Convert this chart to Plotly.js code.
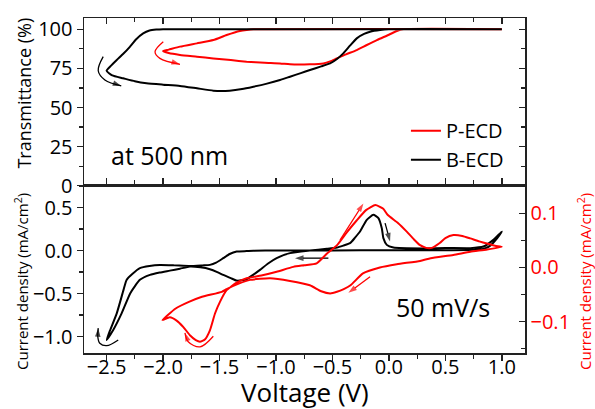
<!DOCTYPE html>
<html>
<head>
<meta charset="utf-8">
<script src="https://cdn.plot.ly/plotly-3.0.1.min.js"></script>
<style>html,body{margin:0;padding:0;background:#fff;}#chart{width:595px;height:409px;}</style>
</head>
<body>
<div id="chart"></div>
<script>
// ---------- Transmittance at 500 nm (top panel) ----------
const bTransV = [1.0, -1.9, -2.0, -2.06, -2.12, -2.176, -2.24, -2.294, -2.35, -2.41, -2.46, -2.5,
  -2.45, -2.353, -2.25, -2.146, -2.0, -1.85, -1.7, -1.555, -1.41, -1.3, -1.2, -1.08, -0.964, -0.876,
  -0.78, -0.699, -0.6, -0.521, -0.46, -0.404, -0.345, -0.285, -0.22, -0.167, -0.078, 0.0, 1.0];
const bTransT = [100, 100, 100, 99.8, 99.2, 97.4, 93.5, 88.8, 84.5, 80.4, 76.8, 73.5,
  70.5, 68.7, 66.8, 65.5, 64.6, 63.8, 62.3, 60.8, 60.8, 61.8, 63.3, 65.3, 67.6, 69.7,
  72.0, 74.0, 76.3, 78.2, 81.0, 84.6, 89.5, 94.2, 97.0, 98.4, 99.5, 100, 100];

const pTransV = [1.0, -1.2, -1.26, -1.32, -1.437, -1.555, -1.7, -1.85, -1.95, -2.0,
  -1.95, -1.85, -1.7, -1.555, -1.4, -1.26, -1.1, -0.964, -0.876, -0.7, -0.58, -0.52,
  -0.462, -0.38, -0.285, -0.2, -0.107, 0.0, 0.07, 0.13, 1.0];
const pTransT = [100, 100, 99.6, 98.9, 96.3, 93.1, 91.0, 88.9, 87.0, 86.1,
  84.8, 83.6, 82.5, 81.4, 80.3, 79.3, 78.6, 78.2, 77.6, 77.6, 78.2, 79.5,
  81.4, 84.0, 86.7, 89.8, 93.1, 96.5, 98.9, 100, 100];

// ---------- Cyclic voltammetry, 50 mV/s (bottom panel) ----------
// B-ECD, left axis (mA/cm2)
const bCvV = [1.0, 0.95, 0.9, 0.85, 0.75, 0.5, 0.0, -0.5, -1.0, -1.2, -1.26, -1.348, -1.41, -1.467,
  -1.53, -1.585, -1.65, -1.762, -1.9, -2.028, -2.12, -2.205, -2.27, -2.323, -2.35, -2.41, -2.47, -2.5,
  -2.44, -2.367, -2.29, -2.205, -2.116, -2.03, -1.94, -1.85, -1.762, -1.67, -1.585, -1.52, -1.467,
  -1.40, -1.348, -1.30, -1.26, -1.2, -1.142, -1.07, -0.994, -0.876, -0.7, -0.55, -0.46, -0.404,
  -0.344, -0.3, -0.256, -0.196, -0.138, -0.093, -0.063, -0.049, -0.019, 0.04, 0.3, 0.5, 0.72,
  0.837, 0.925, 1.0];
const bCvI = [0.22, 0.13, 0.06, 0.025, 0.008, 0.003, 0.003, 0.002, 0.0, -0.002, -0.006, -0.012, -0.04, -0.088,
  -0.14, -0.166, -0.172, -0.18, -0.172, -0.168, -0.18, -0.205, -0.27, -0.341, -0.457, -0.73, -0.93, -1.04,
  -0.92, -0.73, -0.495, -0.34, -0.283, -0.255, -0.233, -0.21, -0.186, -0.195, -0.217, -0.25, -0.283,
  -0.32, -0.349, -0.345, -0.333, -0.28, -0.224, -0.15, -0.088, -0.03, 0.0, 0.02, 0.035, 0.058,
  0.086, 0.15, 0.221, 0.357, 0.415, 0.377, 0.26, 0.144, 0.066, 0.035, 0.025, 0.03, 0.028,
  0.047, 0.124, 0.22];

// P-ECD, right axis (mA/cm2)
const pCvV = [-2.005, -1.94, -1.88, -1.82, -1.762, -1.71, -1.673, -1.63, -1.585, -1.54, -1.496, -1.437,
  -1.348, -1.26, -1.13, -0.994, -0.847, -0.75, -0.64, -0.546, -0.459, -0.371, -0.284, -0.2, -0.12,
  -0.05, -0.01, 0.08, 0.158, 0.22, 0.276, 0.33, 0.38, 0.45, 0.5, 0.571, 0.65, 0.72, 0.8, 0.867, 0.94, 1.0,
  0.87, 0.72, 0.57, 0.37, 0.276, 0.07, -0.08, -0.23, -0.34, -0.40, -0.46, -0.52, -0.6, -0.7, -0.876,
  -1.053, -1.23, -1.33, -1.437, -1.48, -1.655, -1.771, -1.888, -2.005];
const pCvI = [-0.097, -0.092, -0.098, -0.110, -0.125, -0.134, -0.137, -0.133, -0.116, -0.085, -0.0635, -0.042,
  -0.028, -0.020, -0.015, -0.008, 0.001, 0.004, 0.0074, 0.026, 0.041, 0.065, 0.087, 0.106, 0.115,
  0.108, 0.0965, 0.082, 0.066, 0.052, 0.041, 0.036, 0.036, 0.045, 0.054, 0.0596, 0.058, 0.0535, 0.048, 0.044, 0.04, 0.038,
  0.033, 0.029, 0.023, 0.017, 0.012, 0.006, 0.0, -0.011, -0.033, -0.040, -0.045, -0.048, -0.044, -0.033, -0.025,
  -0.020, -0.023, -0.030, -0.040, -0.045, -0.054, -0.0635, -0.0757, -0.097];

// ---------- scan-direction arrows (annotation paths) ----------
const arrTopBlackV = [-2.53, -2.574, -2.515, -2.37];
const arrTopBlackT = [82.5, 73.5, 67.6, 63.8];
const arrTopRedV = [-1.998, -2.071, -2.028, -1.85];
const arrTopRedT = [92.0, 85.6, 81.4, 77.6];
const arrCvBlackCurveV = [-2.397, -2.5, -2.56, -2.578, -2.574];
const arrCvBlackCurveI = [-1.038, -1.105, -1.077, -1.0, -0.902];
const arrCvBlackLeftV = [-0.536, -0.832];
const arrCvBlackLeftI = [-0.088, -0.088];
const arrCvBlackDownV = [-0.034, 0.010];
const arrCvBlackDownI = [0.319, 0.105];
const arrCvRedUpV = [-0.433, -0.226];
const arrCvRedUpI = [0.0504, 0.118];
const arrCvRedDownV = [-0.167, -0.359];
const arrCvRedDownI = [-0.0173, -0.0469];
const arrCvRedCurveV = [-1.555, -1.673, -1.777, -1.806];
const arrCvRedCurveI = [-0.127, -0.1465, -0.137, -0.1207];

const RED = '#ff0000', BLACK = '#000000';
const FONT = 'Open Sans, Noto Sans, DejaVu Sans, sans-serif';

function arrow(xs, ys, xa, ya, color, spline) {
  const sizes = xs.map((_, i) => i === xs.length - 1 ? 9 : 0);
  return {
    x: xs, y: ys, xaxis: xa, yaxis: ya, mode: 'lines+markers', showlegend: false, hoverinfo: 'skip',
    line: {color: color, width: 1.3, shape: spline ? 'spline' : 'linear'},
    marker: {symbol: 'arrow', size: sizes, color: color, angleref: 'previous', line: {width: 0}}
  };
}

const traces = [
  {x: pTransV, y: pTransT, xaxis: 'x2', yaxis: 'y2', mode: 'lines', name: 'P-ECD',
   line: {color: RED, width: 2, shape: 'spline', smoothing: 0.5}},
  {x: bTransV, y: bTransT, xaxis: 'x2', yaxis: 'y2', mode: 'lines', name: 'B-ECD',
   line: {color: BLACK, width: 2, shape: 'spline', smoothing: 0.5}},
  {x: bCvV, y: bCvI, xaxis: 'x', yaxis: 'y', mode: 'lines', name: 'B-ECD CV', showlegend: false,
   line: {color: BLACK, width: 2, shape: 'spline', smoothing: 0.5}},
  {x: pCvV, y: pCvI, xaxis: 'x', yaxis: 'y3', mode: 'lines', name: 'P-ECD CV', showlegend: false,
   line: {color: RED, width: 2, shape: 'spline', smoothing: 0.5}},
  {x: [null], y: [null], xaxis: 'x2', yaxis: 'y4', mode: 'lines', showlegend: false, hoverinfo: 'skip'},
  arrow(arrTopBlackV, arrTopBlackT, 'x2', 'y2', BLACK, true),
  arrow(arrTopRedV, arrTopRedT, 'x2', 'y2', RED, true),
  arrow(arrCvBlackCurveV, arrCvBlackCurveI, 'x', 'y', BLACK, true),
  arrow(arrCvBlackLeftV, arrCvBlackLeftI, 'x', 'y', BLACK, false),
  arrow(arrCvBlackDownV, arrCvBlackDownI, 'x', 'y', BLACK, false),
  arrow(arrCvRedUpV, arrCvRedUpI, 'x', 'y3', RED, false),
  arrow(arrCvRedDownV, arrCvRedDownI, 'x', 'y3', RED, false),
  arrow(arrCvRedCurveV, arrCvRedCurveI, 'x', 'y3', RED, true)
];

const xRange = [-2.7, 1.205];
const axBase = {
  showline: true, linecolor: '#222', linewidth: 1.5, showgrid: false, zeroline: false,
  tickcolor: '#222', tickwidth: 1.3, ticklen: 6,
  tickfont: {family: FONT, size: 20, color: '#000'}
};

const layout = {
  width: 595, height: 409,
  margin: {l: 84, r: 70, t: 18, b: 56},
  paper_bgcolor: '#fff', plot_bgcolor: '#fff',
  font: {family: FONT, color: '#000'},
  showlegend: true,
  legend: {x: 0.73, y: 0.722, xanchor: 'left', yanchor: 'top', bgcolor: 'rgba(0,0,0,0)',
           font: {family: FONT, size: 20, color: '#000'}, tracegroupgap: 0},
  xaxis: Object.assign({}, axBase, {domain: [0, 1], anchor: 'y', range: xRange, dtick: 0.5, tick0: 0,
    tickformat: '.1f', ticks: 'outside', mirror: 'ticks', ticklabelstandoff: -11,
    minor: {dtick: 0.25, ticks: 'outside', ticklen: 4, tickcolor: '#222'}}),
  yaxis: Object.assign({}, axBase, {domain: [0, 0.499], anchor: 'x', range: [-1.19, 0.752],
    dtick: 0.5, tick0: 0, tickformat: '.1f', ticks: 'outside',
    minor: {dtick: 0.25, ticks: 'outside', ticklen: 4, tickcolor: '#222'}}),
  yaxis3: Object.assign({}, axBase, {overlaying: 'y', side: 'right', anchor: 'x',
    range: [-0.1578, 0.1504], dtick: 0.1, tick0: 0, tickformat: '.1f', ticks: 'inside',
    tickfont: {family: FONT, size: 20, color: RED},
    minor: {dtick: 0.05, ticks: 'inside', ticklen: 4, tickcolor: '#222'}}),
  xaxis2: Object.assign({}, axBase, {domain: [0, 1], anchor: 'y2', range: xRange, dtick: 0.5, tick0: 0,
    showticklabels: false, ticks: 'inside', mirror: 'ticks', matches: 'x',
    minor: {dtick: 0.25, ticks: 'inside', ticklen: 4, tickcolor: '#222'}}),
  yaxis2: Object.assign({}, axBase, {domain: [0.499, 1], anchor: 'x2', range: [0, 107.2],
    dtick: 25, tick0: 0, ticks: 'outside',
    minor: {dtick: 12.5, ticks: 'outside', ticklen: 4, tickcolor: '#222'}}),
  yaxis4: Object.assign({}, axBase, {overlaying: 'y2', side: 'right', anchor: 'x2', range: [0, 107.2],
    dtick: 25, tick0: 0, ticks: 'inside', showticklabels: false,
    minor: {dtick: 12.5, ticks: 'inside', ticklen: 4, tickcolor: '#222'}}),
  annotations: [
    {text: 'Voltage (V)', xref: 'paper', yref: 'paper', x: 0.501, y: -0.117, showarrow: false,
     xanchor: 'center', yanchor: 'middle', font: {family: FONT, size: 26, color: '#000'}},
    {text: 'Transmittance (%)', xref: 'paper', yref: 'paper', x: -0.137, y: 0.776, showarrow: false,
     textangle: -90, xanchor: 'center', yanchor: 'middle', font: {family: FONT, size: 18, color: '#000'}},
    {text: 'Current density (mA/cm<sup>2</sup>)', xref: 'paper', yref: 'paper', x: -0.1406, y: 0.215,
     showarrow: false, textangle: -90, xanchor: 'center', yanchor: 'middle',
     font: {family: FONT, size: 15, color: '#000'}},
    {text: 'Current density (mA/cm<sup>2</sup>)', xref: 'paper', yref: 'paper', x: 1.136, y: 0.215,
     showarrow: false, textangle: -90, xanchor: 'center', yanchor: 'middle',
     font: {family: FONT, size: 15, color: RED}},
    {text: 'at 500 nm', xref: 'paper', yref: 'paper', x: 0.195, y: 0.59, showarrow: false,
     xanchor: 'center', yanchor: 'middle', font: {family: FONT, size: 25, color: '#000'}},
    {text: '50 mV/s', xref: 'paper', yref: 'paper', x: 0.815, y: 0.136, showarrow: false,
     xanchor: 'center', yanchor: 'middle', font: {family: FONT, size: 25, color: '#000'}}
  ]
};

Plotly.newPlot('chart', traces, layout, {displayModeBar: false, staticPlot: true});
</script>
</body>
</html>
